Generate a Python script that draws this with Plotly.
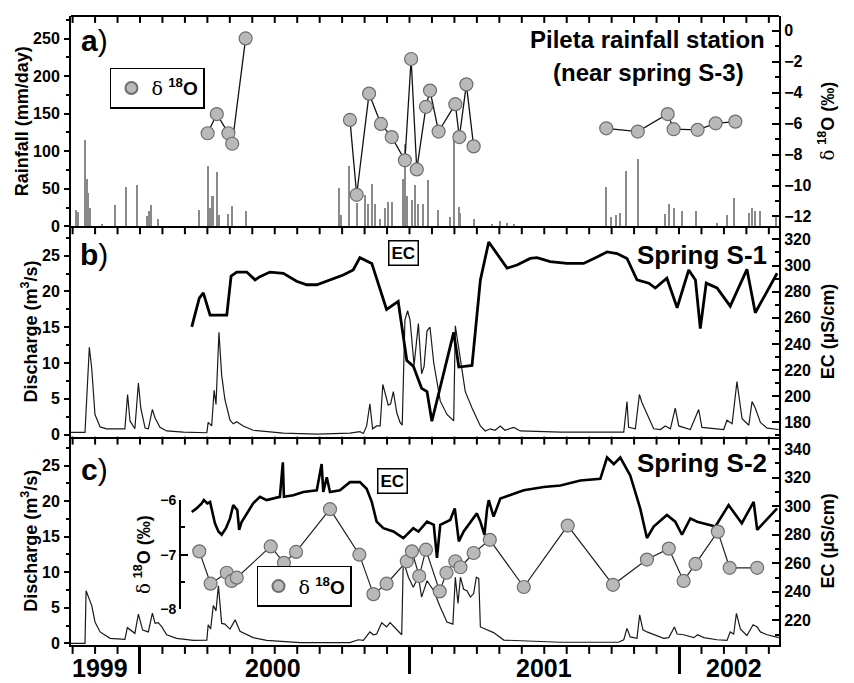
import plotly.graph_objects as go

FONT = "Liberation Sans, Arial, sans-serif"

# ---------------- data (x in decimal years) ----------------
rain_yr = [1999.763, 1999.771, 1999.796, 1999.802, 1999.808, 1999.814, 1999.858, 1999.907, 1999.948, 1999.988,
           2000.025, 2000.033, 2000.040, 2000.068, 2000.220, 2000.251, 2000.260, 2000.268, 2000.273, 2000.287,
           2000.294, 2000.328, 2000.342, 2000.392, 2000.738, 2000.745, 2000.777, 2000.804, 2000.837, 2000.847,
           2000.860, 2000.872, 2000.891, 2000.909, 2000.921, 2000.934, 2000.977, 2000.983, 2000.992, 2001.008,
           2001.020, 2001.033, 2001.049, 2001.069, 2001.108, 2001.151, 2001.166, 2001.183, 2001.189, 2001.238,
           2001.306, 2001.337, 2001.362, 2001.387, 2001.730, 2001.749, 2001.767, 2001.780, 2001.805, 2001.847,
           2001.949, 2001.962, 2001.980, 2002.011, 2002.064, 2002.141, 2002.178, 2002.205, 2002.259, 2002.271,
           2002.283, 2002.302, 2002.361]
rain_mm = [22, 19, 115, 63, 45, 25, 3, 29, 53, 55,
           14, 20, 28, 10, 22, 80, 25, 41, 40, 72,
           15, 17, 27, 20, 51, 15, 80, 31, 42, 30,
           57, 30, 10, 25, 33, 32, 63, 110, 40, 35,
           55, 30, 30, 62, 22, 12, 124, 26, 18, 10,
           3, 7, 5, 3, 52, 12, 15, 18, 74, 89,
           17, 30, 25, 20, 20, 5, 15, 38, 18, 25,
           20, 20, 12]

d18_rain_yr = [2000.251, 2000.285, 2000.328, 2000.342, 2000.392, None,
               2000.779, 2000.804, 2000.850, 2000.894, 2000.934, 2000.983, 2001.006, 2001.027,
               2001.061, 2001.076, 2001.108, 2001.170, 2001.185, 2001.211, 2001.238, None,
               2001.730, 2001.847, 2001.958, 2001.980, 2002.069, 2002.136, 2002.209]
d18_rain = [-6.62, -5.38, -6.62, -7.30, -0.49, None,
            -5.76, -10.6, -4.06, -6.02, -6.87, -8.37, -1.82, -8.96,
            -4.91, -3.86, -6.51, -4.74, -6.87, -3.46, -7.47, None,
            -6.30, -6.51, -5.38, -6.36, -6.40, -5.98, -5.87]

q1_yr = [1999.744, 1999.796, 1999.812, 1999.821, 1999.833, 1999.852, 1999.876, 1999.944, 1999.954, 1999.963,
         1999.981, 1999.994, 2000.003, 2000.019, 2000.031, 2000.046, 2000.056, 2000.074, 2000.099, 2000.161,
         2000.248, 2000.253, 2000.266, 2000.275, 2000.282, 2000.293, 2000.303, 2000.315, 2000.334, 2000.346,
         2000.359, 2000.383, 2000.420, 2000.470, 2000.532, 2000.656, 2000.779, 2000.816, 2000.829, 2000.841,
         2000.853, 2000.863, 2000.878, 2000.891, 2000.901, 2000.915, 2000.921, 2000.930, 2000.940, 2000.953,
         2000.965, 2000.973, 2000.983, 2000.993, 2001.002, 2001.017, 2001.033, 2001.045, 2001.054, 2001.065,
         2001.076, 2001.090, 2001.114, 2001.139, 2001.164, 2001.170, 2001.189, 2001.207, 2001.232, 2001.263,
         2001.281, 2001.300, 2001.317, 2001.337, 2001.354, 2001.387, 2001.411, 2001.560, 2001.795, 2001.807,
         2001.813, 2001.838, 2001.853, 2001.863, 2001.906, 2001.931, 2001.949, 2001.968, 2001.986, 2001.999,
         2002.042, 2002.073, 2002.085, 2002.166, 2002.178, 2002.197, 2002.215, 2002.234, 2002.259, 2002.271,
         2002.283, 2002.302, 2002.327, 2002.370]
q1 = [0.3, 0.3, 12.2, 9.2, 2.8, 1.06, 0.8, 0.8, 5.6, 1.9,
      0.8, 7.2, 3.7, 0.9, 0.8, 3.5, 2.3, 1.0, 0.5, 0.35,
      0.25, 1.7, 1.2, 6.2, 4.2, 14.3, 8.3, 4.9, 2.0, 1.5,
      1.8, 1.2, 0.6, 0.45, 0.2, 0.05, 0.2, 0.4, 0.15, 1.2,
      4.3, 0.8, 1.2, 1.2, 7.0, 5.0, 4.1, 4.3, 6.0, 3.0,
      1.7, 1.3, 16.0, 17.3, 16.0, 9.7, 15.5, 8.5, 9.5, 14.5,
      15.0, 10.0, 4.7, 2.8, 1.9, 15.2, 10.6, 6.0, 3.7, 1.2,
      0.5, 0.8, 0.6, 1.2, 0.6, 1.0, 0.5, 0.35, 0.35, 4.6,
      1.0, 0.8, 5.6, 4.4, 0.8, 0.7, 1.2, 0.8, 3.7, 1.2,
      0.7, 3.5, 1.0, 0.7, 2.0, 1.5, 7.4, 2.2, 1.3, 4.6,
      3.7, 1.7, 0.9, 0.7]

ec1_yr = [2000.192, 2000.220, 2000.235, 2000.260, 2000.322, 2000.338, 2000.359, 2000.396, 2000.427, 2000.445,
          2000.482, 2000.532, 2000.581, 2000.619, 2000.656, 2000.705, 2000.754, 2000.791, 2000.816, 2000.860,
          2000.915, 2000.958, 2000.990, 2001.014, 2001.045, 2001.065, 2001.083, 2001.164, 2001.183, 2001.232,
          2001.263, 2001.294, 2001.362, 2001.399, 2001.448, 2001.473, 2001.522, 2001.584, 2001.646, 2001.696,
          2001.733, 2001.770, 2001.807, 2001.844, 2001.888, 2001.912, 2001.955, 2001.993, 2002.036, 2002.061,
          2002.079, 2002.101, 2002.141, 2002.190, 2002.252, 2002.283, 2002.364]
ec1 = [253, 275, 279, 262, 262, 292, 295, 295, 289, 291.5,
       295, 294, 288, 285.3, 285.3, 289, 292.8, 296.6, 306, 301.6,
       266.4, 272.6, 227.3, 223, 206, 203.5, 180.8, 248.8, 222.3, 223.5,
       289, 318, 298, 300.4, 305.4, 306, 303, 301.6, 301.6, 306.6,
       310.4, 309.2, 305.4, 289, 286.5, 282.8, 290.3, 267.7, 296.6, 289,
       251.8, 286.5, 282.8, 268.9, 297.1, 263.9, 294.1]

q2_yr = [1999.744, 1999.796, 1999.800, 1999.808, 1999.821, 1999.833, 1999.852, 1999.889, 1999.944, 1999.953,
         1999.981, 1999.994, 2000.010, 2000.031, 2000.046, 2000.056, 2000.068, 2000.081, 2000.099, 2000.136,
         2000.198, 2000.248, 2000.253, 2000.262, 2000.272, 2000.282, 2000.291, 2000.303, 2000.315, 2000.334,
         2000.353, 2000.371, 2000.420, 2000.470, 2000.594, 2000.779, 2000.810, 2000.829, 2000.853, 2000.866,
         2000.878, 2000.897, 2000.915, 2000.928, 2000.953, 2000.971, 2000.977, 2000.996, 2001.014, 2001.033,
         2001.045, 2001.065, 2001.090, 2001.114, 2001.139, 2001.161, 2001.170, 2001.180, 2001.189, 2001.201,
         2001.213, 2001.226, 2001.238, 2001.248, 2001.257, 2001.263, 2001.312, 2001.350, 2001.560, 2001.776,
         2001.795, 2001.807, 2001.819, 2001.844, 2001.854, 2001.866, 2001.881, 2001.906, 2001.943, 2001.962,
         2001.983, 2001.993, 2002.017, 2002.055, 2002.069, 2002.092, 2002.141, 2002.178, 2002.190, 2002.203,
         2002.213, 2002.228, 2002.252, 2002.275, 2002.290, 2002.302, 2002.327, 2002.370]
q2 = [0.0, 0.0, 7.4, 6.7, 5.3, 3.0, 1.6, 0.7, 0.55, 2.2,
      1.4, 4.1, 1.85, 1.6, 4.25, 2.8, 2.9, 2.3, 1.2, 0.7,
      0.4, 0.45, 2.6, 2.0, 5.3, 4.6, 8.1, 2.8, 2.7, 2.0,
      3.3, 1.7, 0.8, 0.4, 0.1, 0.1, 0.5, 0.4, 1.6, 1.2,
      1.3, 2.9, 2.3, 2.9, 1.9, 1.2, 11.6, 9.3, 7.9, 9.4,
      6.5, 8.8, 7.4, 5.1, 3.0, 2.7, 9.3, 5.6, 9.3, 7.6,
      7.4, 6.5, 7.0, 9.3, 9.1, 2.3, 1.5, 0.45, 0.15, 0.15,
      0.5, 2.1, 0.9, 0.7, 4.0, 1.9, 1.6, 1.2, 0.7, 0.8,
      2.3, 1.3, 1.2, 0.8, 1.2, 0.8, 0.5, 0.4, 1.6, 1.3,
      4.2, 2.0, 1.1, 2.6, 2.3, 1.6, 1.2, 0.8]

ec2_yr = [2000.192, 2000.210, 2000.229, 2000.237, 2000.250, 2000.260, 2000.278, 2000.291, 2000.303, 2000.319,
          2000.334, 2000.346, 2000.361, 2000.368, 2000.377, 2000.396, 2000.420, 2000.445, 2000.470, 2000.519,
          2000.530, 2000.534, 2000.569, 2000.606, 2000.656, 2000.674, 2000.680, 2000.693, 2000.705, 2000.742,
          2000.779, 2000.816, 2000.841, 2000.860, 2000.878, 2000.903, 2000.940, 2000.977, 2001.014, 2001.033,
          2001.065, 2001.090, 2001.102, 2001.114, 2001.151, 2001.168, 2001.183, 2001.201, 2001.226, 2001.250,
          2001.263, 2001.278, 2001.288, 2001.294, 2001.312, 2001.337, 2001.387, 2001.424, 2001.498, 2001.560,
          2001.634, 2001.708, 2001.733, 2001.758, 2001.782, 2001.819, 2001.856, 2001.881, 2001.906, 2001.955,
          2001.986, 2002.011, 2002.042, 2002.067, 2002.135, 2002.184, 2002.233, 2002.277, 2002.290, 2002.364]
ec2 = [296, 298.5, 302, 304.3, 302, 303, 288, 282.3, 280, 284.6,
       291.5, 300.8, 297.3, 283.5, 289, 295, 302, 306.6, 304.3, 306.6,
       330.8, 306.6, 307.7, 310, 311.2, 329.6, 310, 320.4, 310, 311.2,
       316.9, 316.9, 312.3, 303.1, 289.2, 284.6, 282.3, 277.7, 284.6, 282.3,
       289.2, 287, 263.8, 287, 290.4, 298.5, 275.4, 282.3, 289.2, 295,
       289.2, 280, 298.5, 304.3, 292.7, 305.4, 308.8, 311.2, 313.5, 314.6,
       318.1, 319.2, 334.2, 329.6, 334.2, 321.6, 298.5, 277.7, 285.8, 293.9,
       289.2, 280, 291.5, 289.2, 285.8, 300.8, 288.1, 303.1, 283.5, 298.5]

d18_s2_yr = [2000.220, 2000.262, 2000.322, 2000.340, 2000.359, 2000.485, 2000.534, 2000.579, 2000.705, 2000.814,
             2000.866, 2000.915, 2000.990, 2001.009, 2001.036, 2001.061, 2001.112, 2001.137, 2001.170, 2001.189,
             2001.238, 2001.298, 2001.424, 2001.587, 2001.755, 2001.881, 2001.962, 2002.017, 2002.061, 2002.144,
             2002.188, 2002.290]
d18_s2 = [-6.94, -7.53, -7.33, -7.48, -7.42, -6.85, -7.15, -6.95, -6.17, -7.00,
          -7.72, -7.53, -7.12, -6.94, -7.39, -6.91, -7.67, -7.33, -7.12, -7.23,
          -6.97, -6.73, -7.59, -6.47, -7.55, -7.09, -6.89, -7.48, -7.17, -6.58,
          -7.24, -7.24]

year_labels = ["1999", "2000", "2001", "2002"]
year_label_pos = [1999.852, 2000.493, 2001.499, 2002.204]
year_starts = [2000, 2001, 2002]
X_RANGE_YR = [1999.744, 2002.371]


# the time axis is drawn in whole months counted from January 2000
def to_month(values):
    return [None if v is None else (v - 2000) * 12 for v in values]


X_RANGE = to_month(X_RANGE_YR)
MONTH_TICKS = list(range(-3, 29))
YEAR_TICKS = [int(round(m)) for m in to_month(year_starts)]

# ---------------- styles ----------------
MK = dict(size=13, color="#b9b9b9", line=dict(color="#6e6e6e", width=1.2))
D18 = '<span style="font-family:DejaVu Serif;font-weight:normal">δ</span> <sup>18</sup>O'

fig = go.Figure()

# panel a
fig.add_trace(go.Bar(x=to_month(rain_yr), y=rain_mm, xaxis="x3", yaxis="y6", width=0.055,
                     marker=dict(color="#8a8a8a", line=dict(width=0)), showlegend=False))
fig.add_trace(go.Scatter(x=to_month(d18_rain_yr), y=d18_rain, xaxis="x3", yaxis="y7", mode="lines",
                         line=dict(color="#111", width=1.3), showlegend=False, connectgaps=False))
fig.add_trace(go.Scatter(x=to_month(d18_rain_yr), y=d18_rain, xaxis="x3", yaxis="y7", mode="markers",
                         marker=MK, name=D18, legend="legend", cliponaxis=False))

# panel b
fig.add_trace(go.Scatter(x=to_month(q1_yr), y=q1, xaxis="x2", yaxis="y4", mode="lines",
                         line=dict(color="#1a1a1a", width=1.2), showlegend=False))
fig.add_trace(go.Scatter(x=to_month(ec1_yr), y=ec1, xaxis="x2", yaxis="y5", mode="lines",
                         line=dict(color="#000", width=2.8), showlegend=False))

# panel c
fig.add_trace(go.Scatter(x=to_month(q2_yr), y=q2, xaxis="x", yaxis="y", mode="lines",
                         line=dict(color="#1a1a1a", width=1.2), showlegend=False))
fig.add_trace(go.Scatter(x=to_month(ec2_yr), y=ec2, xaxis="x", yaxis="y2", mode="lines",
                         line=dict(color="#000", width=2.6), showlegend=False))
fig.add_trace(go.Scatter(x=to_month(d18_s2_yr), y=d18_s2, xaxis="x", yaxis="y3", mode="lines",
                         line=dict(color="#222", width=1.2), showlegend=False, cliponaxis=False))
fig.add_trace(go.Scatter(x=to_month(d18_s2_yr), y=d18_s2, xaxis="x", yaxis="y3", mode="markers",
                         marker=MK, name=D18, legend="legend2", cliponaxis=False))
# empty traces so that every extra axis gets its own subplot
for xa, ya in [("x4", "y"), ("x5", "y6")]:
    fig.add_trace(go.Scatter(x=[], y=[], xaxis=xa, yaxis=ya, mode="lines",
                             showlegend=False, hoverinfo="skip"))

TF = dict(family=FONT, size=16, color="black", weight="bold")
TTF = dict(family=FONT, size=18, color="black", weight="bold")


def xframe(extra):
    d = dict(range=X_RANGE, type="linear", ticks="", showticklabels=False, showline=True,
             linewidth=2, linecolor="black", showgrid=False, zeroline=False)
    d.update(extra)
    return d


def yleft(domain, rng, dtick, minor, title):
    return dict(domain=domain, range=rng, tick0=0, dtick=dtick, ticks="outside", ticklen=5,
                tickwidth=2, tickcolor="black", tickfont=TF, ticklabelstandoff=1,
                minor=dict(dtick=minor, ticks="outside", ticklen=3, tickwidth=1.5, tickcolor="black"),
                showline=True, linewidth=2, linecolor="black", showgrid=False, zeroline=False,
                title=dict(text=title, font=TTF, standoff=0))


def yright(over, rng, tick0, dtick, minor, title):
    return dict(overlaying=over, side="right", range=rng, tick0=tick0, dtick=dtick,
                ticks="inside", ticklen=7, tickwidth=2, tickcolor="black", tickfont=TF,
                minor=dict(dtick=minor, tick0=tick0, ticks="inside", ticklen=4, tickwidth=1.5,
                           tickcolor="black"),
                showline=True, linewidth=2, linecolor="black", showgrid=False, zeroline=False,
                title=dict(text=title, font=TTF, standoff=11))


DA = [0.6656, 1.0]
DB = [0.3312, 0.6656]
DC = [0.0, 0.3312]
PLOT_H = 683 - 8 - 38   # plot area height in px, to express tick length in paper units

# monthly tick marks hanging down from each horizontal frame line (x through the axis scale)
shapes = []
for xref, ypos, tlen in [("x3", DA[1], 7), ("x3", DA[0], 8), ("x2", DB[0], 8), ("x", DC[0], 9)]:
    for m in MONTH_TICKS:
        shapes.append(dict(type="line", xref=xref, yref="paper", x0=m, x1=m,
                           y0=ypos, y1=ypos - tlen / PLOT_H,
                           line=dict(color="black", width=2), layer="above"))

annotations = []
for t, xv in zip(year_labels, to_month(year_label_pos)):
    annotations.append(dict(x=xv, xref="x", y=-0.037, yref="paper", text=t, showarrow=False,
                            xanchor="center", yanchor="middle",
                            font=dict(family=FONT, size=25, color="black", weight="bold")))
PL = dict(family=FONT, size=30, color="black", weight="bold")
for t, yv in [("a", 0.9608), ("b", 0.6201), ("c", 0.2786)]:
    annotations.append(dict(x=0.0325, y=yv, xref="paper", yref="paper",
                            text=t + '<span style="font-weight:normal">)</span>',
                            showarrow=False, xanchor="center", yanchor="middle", font=PL))
HF = dict(family=FONT, size=24, color="black", weight="bold")
annotations += [
    dict(x=0.983, y=0.9623, xref="paper", yref="paper", text="Pileta rainfall station",
         showarrow=False, xanchor="right", yanchor="middle", font=HF),
    dict(x=0.816, y=0.9105, xref="paper", yref="paper", text="(near spring S-3)",
         showarrow=False, xanchor="center", yanchor="middle", font=HF),
    dict(x=0.9855, y=0.620, xref="paper", yref="paper", text="Spring S-1",
         showarrow=False, xanchor="right", yanchor="middle",
         font=dict(family=FONT, size=26, color="black", weight="bold")),
    dict(x=0.9855, y=0.2889, xref="paper", yref="paper", text="Spring S-2",
         showarrow=False, xanchor="right", yanchor="middle",
         font=dict(family=FONT, size=26, color="black", weight="bold")),
]
ECF = dict(family=FONT, size=17, color="black", weight="bold")
for xp, yp in [(0.470, 0.6232), (0.4534, 0.2614)]:
    annotations.append(dict(x=xp, y=yp, xref="paper", yref="paper", text="EC", showarrow=False,
                            xanchor="center", yanchor="middle", font=ECF, bgcolor="white",
                            bordercolor="black", borderwidth=1.5, borderpad=2))

LEG = dict(bgcolor="white", bordercolor="black", borderwidth=1.5,
           font=dict(family=FONT, size=19, color="black", weight="bold"),
           xanchor="left", yanchor="top", itemwidth=30, itemsizing="constant")

fig.update_layout(
    width=854, height=683,
    margin=dict(l=71, r=75, t=8, b=38),
    paper_bgcolor="white", plot_bgcolor="rgba(0,0,0,0)",
    font=dict(family=FONT, color="black"),
    bargap=0,
    xaxis=xframe(dict(domain=[0, 1], anchor="y", side="bottom")),
    xaxis2=xframe(dict(domain=[0, 1], anchor="y4", side="bottom")),
    xaxis3=xframe(dict(domain=[0, 1], anchor="y6", side="bottom")),
    xaxis5=xframe(dict(overlaying="x3", anchor="free", position=1.0, side="top")),
    # long ticks at the start of each year
    xaxis4=dict(overlaying="x", anchor="y", side="bottom", range=X_RANGE, type="linear",
                tickmode="array", tickvals=YEAR_TICKS, ticks="outside", ticklen=28, tickwidth=2.5,
                tickcolor="black", showticklabels=False, showline=False, showgrid=False,
                zeroline=False),
    yaxis=yleft(DC, [-0.24, 29.07], 5, 2.5, "Discharge (m<sup>3</sup>/s)"),
    yaxis2=yright("y", [202.7, 348.8], 200, 20, 10, "EC (µS/cm)"),
    yaxis3=dict(domain=[0.0565, 0.2308], anchor="free", position=0.154, side="left",
                range=[-8, -6], tickvals=[-8, -7, -6], ticks="inside", ticklen=7, tickwidth=2,
                tickcolor="black",
                minor=dict(tickvals=[-7.5, -6.5], ticks="inside", ticklen=4, tickwidth=1.5,
                           tickcolor="black"),
                tickfont=dict(family=FONT, size=14, color="black", weight="bold"),
                showline=True, linewidth=2, linecolor="black", showgrid=False, zeroline=False,
                title=dict(text=D18 + " (‰)", font=TTF, standoff=4)),
    yaxis4=yleft(DB, [-0.3, 29.1], 5, 2.5, "Discharge (m<sup>3</sup>/s)"),
    yaxis5=yright("y4", [169, 330], 180, 20, 10, "EC (µS/cm)"),
    yaxis6=yleft(DA, [0, 280], 50, 25, "Rainfall (mm/day)"),
    yaxis7=yright("y6", [-12.64, 0.96], 0, 2, 1, D18 + " (‰)"),
    legend=dict(x=0.055, y=0.918, **LEG),
    legend2=dict(x=0.2627, y=0.126, **LEG),
    annotations=annotations,
    shapes=shapes,
)

fig.write_html("out.html")
